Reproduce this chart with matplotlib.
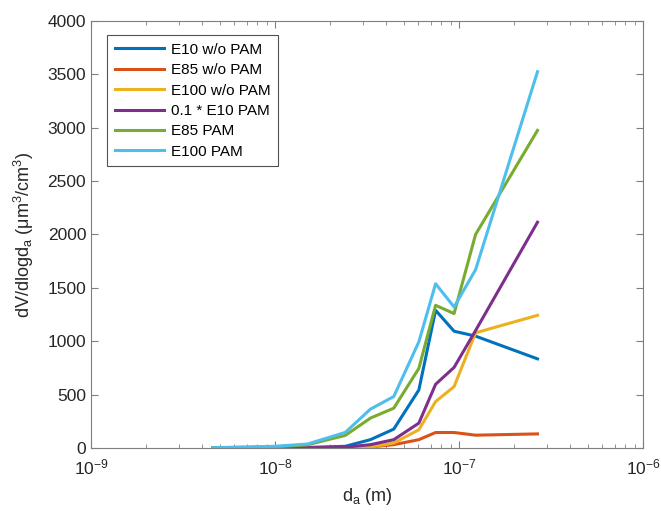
import matplotlib
matplotlib.use("Agg")
import matplotlib.pyplot as plt
from matplotlib.ticker import LogLocator, NullFormatter, MultipleLocator

plt.rcParams['font.family'] = ['Liberation Sans', 'DejaVu Sans']
plt.rcParams['mathtext.default'] = 'regular'

# Data
diam = [4.6e-9, 1.0e-8, 1.5e-8, 2.41e-8, 3.3e-8, 4.42e-8, 6.05e-8, 7.46e-8, 9.4e-8, 1.23e-7, 2.67e-7]
e10_wo = [0, 2, 5, 16, 78, 177, 544, 1290, 1094, 1048, 835]
e85_wo = [0, 0, 1, 3, 10, 31, 78, 145, 145, 120, 132]
e100_wo = [0, 0, 1, 3, 9, 47, 171, 435, 575, 1079, 1243]
e10_pam_01 = [0, 1, 3, 8, 31, 78, 233, 597, 755, 1100, 2115]
e85_pam = [2, 10, 30, 118, 280, 373, 746, 1337, 1259, 2000, 2975]
e100_pam = [3, 16, 37, 146, 364, 482, 995, 1539, 1321, 1670, 3525]

labels = ['E10 w/o PAM', 'E85 w/o PAM', 'E100 w/o PAM', '0.1 * E10 PAM', 'E85 PAM', 'E100 PAM']
colors = ['#0072BD', '#D95319', '#EDB120', '#7E2F8E', '#77AC30', '#4DBEEE']
series = [e10_wo, e85_wo, e100_wo, e10_pam_01, e85_pam, e100_pam]

fig = plt.figure(figsize=(6.61, 5.11), dpi=100)
ax = fig.add_axes([0.1377, 0.1233, 0.8351, 0.8356])

for ys, lab, c in zip(series, labels, colors):
    ax.plot(diam, ys, color=c, lw=2.2, label=lab)

ax.set_xscale('log')
ax.set_xlim(1e-9, 1e-6)
ax.set_ylim(0, 4000)
ax.yaxis.set_major_locator(MultipleLocator(500))
ax.xaxis.set_major_locator(LogLocator(base=10, numticks=10))
ax.xaxis.set_minor_locator(LogLocator(base=10, subs=range(2, 10), numticks=100))
ax.xaxis.set_minor_formatter(NullFormatter())

axcol = '#262626'
for sp in ax.spines.values():
    sp.set_color('#7f7f7f')
    sp.set_linewidth(0.8)
ax.tick_params(which='both', direction='in', top=True, right=True, colors='#7f7f7f',
               labelcolor=axcol, labelsize=12.5)
ax.tick_params(axis='x', which='major', pad=7)
ax.tick_params(which='major', length=5)
ax.tick_params(which='minor', length=3)

ax.set_xlabel('d$_a$ (m)', fontsize=13, color=axcol, labelpad=6)
ax.set_ylabel('dV/dlogd$_a$ (\u03bcm$^3$/cm$^3$)', fontsize=13, color=axcol, labelpad=8)

leg = ax.legend(loc='upper left', bbox_to_anchor=(0.029, 0.967), borderaxespad=0,
                fontsize=11, handlelength=3.2, frameon=True, fancybox=False,
                edgecolor=axcol, labelspacing=0.42, borderpad=0.5, handletextpad=0.5)
leg.get_frame().set_linewidth(0.8)
for t in leg.get_texts():
    t.set_color('black')

fig.savefig('out.png', dpi=100)
